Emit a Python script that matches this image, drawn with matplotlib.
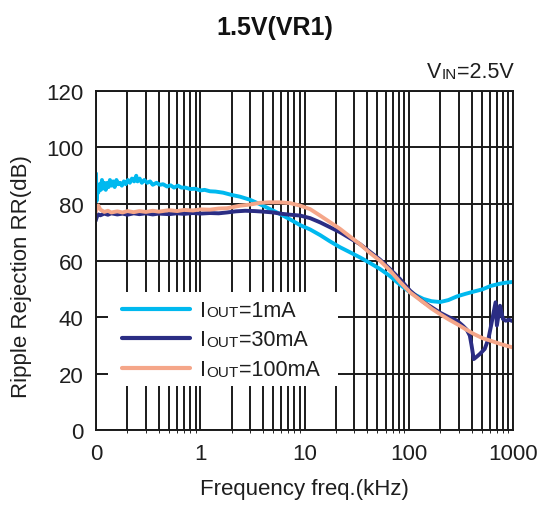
import matplotlib
matplotlib.use('Agg')
import matplotlib.pyplot as plt
from matplotlib.patches import Rectangle

plt.rcParams['font.family'] = ['Liberation Sans', 'DejaVu Sans']

# frequency in kHz, ripple rejection in dB
freq_1ma = [0.100, 0.101, 0.103, 0.105, 0.108, 0.111, 0.114, 0.117, 0.120, 0.124,
            0.128, 0.132, 0.136, 0.141, 0.146, 0.151, 0.157, 0.163, 0.170, 0.177,
            0.185, 0.193, 0.202, 0.211, 0.221, 0.232, 0.243, 0.250, 0.262, 0.275,
            0.29, 0.31, 0.33, 0.35, 0.38, 0.41, 0.44, 0.48, 0.52, 0.56,
            0.61, 0.66, 0.72, 0.8, 0.9, 1.0, 1.1, 1.24, 1.4, 1.66,
            2.0, 2.4, 3.0, 3.7, 4.6, 5.8, 7.3, 9.1, 11.3, 14.1,
            17.5, 21.9, 27, 34, 42, 53, 66, 82, 103, 120,
            138, 165, 200, 240, 290, 350, 420, 510, 610, 750, 870, 1000]
rr_1ma = [90.5, 81, 86, 84, 87, 85, 88.5, 85.5, 87.5, 85,
          87.5, 86, 88.5, 86.5, 88, 86, 88.5, 87, 87.5, 86.5,
          88, 87, 88.5, 87.5, 89, 88, 90, 88, 89, 87.5,
          88.5, 87.5, 88, 86.8, 87.5, 86.8, 87, 86.2, 86.6, 85.8,
          86.5, 85.8, 85.8, 85.3, 85.4, 84.8, 85, 84.5, 84.4, 84,
          83.2, 82.6, 81.5, 80, 78.3, 76.5, 74.5, 72.5, 71, 69,
          66.8, 64.7, 63, 61.1, 59.2, 57, 54.5, 51.5, 48.7, 47.5,
          46.4, 45.6, 45.3, 46, 47.3, 48.2, 49, 49.8, 51, 51.8, 52.2, 52.4]

freq_30ma = [0.1, 0.102, 0.105, 0.11, 0.12, 0.13, 0.14, 0.16, 0.18, 0.2,
             0.23, 0.26, 0.3, 0.35, 0.4, 0.5, 0.6, 0.7, 0.85, 1.0,
             1.24, 1.5, 1.8, 2.2, 2.7, 3.3, 4.0, 5.0, 5.8, 7.3,
             9.1, 11.3, 14.1, 17.5, 21.9, 27, 34, 42, 53, 66,
             82, 103, 138, 165, 200, 240, 290, 330, 360, 385,
             400, 420, 450, 480, 535, 580, 620, 680, 700, 750,
             800, 850, 920, 1000]
rr_30ma = [74.5, 75.5, 76.3, 76, 76.6, 76.2, 76.7, 76.3, 76.6, 76.2,
           76.7, 76.4, 76.7, 76.3, 76.6, 76.4, 76.7, 76.5, 76.8, 76.6,
           76.8, 76.7, 77.0, 77.4, 77.6, 77.5, 77.3, 77.0, 76.6, 76.2,
           75.9, 75, 73.5, 71.8, 70, 68, 65.8, 63.2, 60.3, 57,
           53.5, 49.3, 45.3, 43.5, 41.5, 40, 38.7, 36.9, 35.5, 33.4,
           30, 25.1, 26, 26.9, 28.7, 32.2, 37.5, 45.2, 37, 44,
           39.3, 38.7, 39, 38.5]

freq_100ma = [0.1, 0.102, 0.105, 0.11, 0.12, 0.13, 0.14, 0.16, 0.18, 0.2,
              0.23, 0.26, 0.3, 0.35, 0.4, 0.5, 0.6, 0.7, 0.85, 1.0,
              1.24, 1.5, 1.8, 2.4, 3.0, 3.7, 4.6, 5.8, 7.3, 9.1,
              11.3, 14.1, 17.5, 21.9, 27, 34, 42, 53, 66, 82,
              103, 138, 165, 200, 240, 290, 350, 420, 510, 610,
              750, 870, 1000]
rr_100ma = [77.5, 79, 79.5, 78, 77.2, 77.6, 77, 77.4, 77, 77.5,
            77.1, 77.5, 77.2, 77.6, 77.3, 77.8, 77.5, 77.9, 77.7, 78.1,
            78, 78.4, 78.5, 79.4, 79.8, 80.4, 80.6, 80.6, 80.3, 79.4,
            78.2, 75.9, 73.6, 71.2, 68.6, 65.8, 62.8, 59.9, 56.5, 52.5,
            48.7, 45.2, 43, 41, 39.2, 37.5, 35.7, 34, 32.5, 31.6,
            30.5, 29.8, 29.2]

series = [
    (freq_1ma, rr_1ma, '#00b9ef', '1mA'),
    (freq_30ma, rr_30ma, '#2b2d84', '30mA'),
    (freq_100ma, rr_100ma, '#f5a689', '100mA'),
]

xticks = [0.1, 1, 10, 100, 1000]
xtick_labels = ['0', '1', '10', '100', '1000']
yticks = [0, 20, 40, 60, 80, 100, 120]

txt = '#1e1e1e'
fig = plt.figure(figsize=(5.41, 5.06), dpi=100)
ax = fig.add_axes([0.1775, 0.1482, 0.7708, 0.670])

for f, v, c, lab in series:
    ax.plot(f, v, color=c, lw=2.8, zorder=2, solid_joinstyle='round')

ax.set_xscale('log')
ax.set_xlim(0.1, 1000)
ax.set_ylim(0, 120)
ax.set_xticks(xticks)
ax.set_xticklabels(xtick_labels)
ax.set_yticks(yticks)
ax.tick_params(length=0, labelsize=16, pad=9, colors=txt)
ax.set_axisbelow(True)
ax.grid(True, which='both', axis='x', color='#1a1a1a', lw=1.4)
ax.grid(True, which='major', axis='y', color='#1a1a1a', lw=1.4)
for s in ax.spines.values():
    s.set_color('#1a1a1a')
    s.set_linewidth(1.4)

# legend box drawn by hand (subscripts are small caps on the baseline)
ax.add_patch(Rectangle((0.029, 0.130), 0.551, 0.277, transform=ax.transAxes,
                       facecolor='white', edgecolor='none', zorder=1))
rows_line = [0.357, 0.2705, 0.183]
rows_text = [0.337, 0.251, 0.162]
for (f, v, c, lab), yl, yt in zip(series, rows_line, rows_text):
    ax.plot([0.0616, 0.2254], [yl, yl], transform=ax.transAxes, color=c,
            lw=3, zorder=3, solid_capstyle='round')
    t1 = ax.text(0.249, yt, 'I', transform=ax.transAxes, fontsize=15.5,
                 va='baseline', ha='left', color=txt, zorder=3)
    t2 = ax.annotate('OUT', xy=(1, 0), xycoords=t1, xytext=(0.5, 1),
                     textcoords='offset points', fontsize=11,
                     va='bottom', ha='left', color=txt, zorder=3)
    ax.annotate('=' + lab, xy=(1, 0), xycoords=t2, xytext=(0, -1),
                textcoords='offset points', fontsize=15.5,
                va='bottom', ha='left', color=txt, zorder=3)

# V_IN annotation, right aligned above the axes
tv2 = fig.text(514 / 541, 1 - 78 / 506, '=2.5V', fontsize=15.5,
               va='baseline', ha='right', color=txt)
t_in = fig.text(0, 0, '', fontsize=1)
t_in = ax.annotate('IN', xy=(0, 0), xycoords=tv2, xytext=(0, 1),
                   textcoords='offset points', fontsize=11, va='bottom',
                   ha='right', color=txt)
ax.annotate('V', xy=(0, 0), xycoords=t_in, xytext=(-0.5, -1),
            textcoords='offset points', fontsize=15.5, va='bottom',
            ha='right', color=txt)

fig.text(275 / 541, 1 - 28 / 506, '1.5V(VR1)', fontsize=18,
         fontweight='bold', ha='center', va='center', color='#111111')
fig.text(304 / 541, 1 - 490 / 506, 'Frequency freq.(kHz)', fontsize=16,
         ha='center', va='center', color=txt)
fig.text(22 / 541, 1 - 277 / 506, 'Ripple Rejection RR(dB)', fontsize=16,
         ha='center', va='center', rotation=90, color=txt)

fig.savefig('out.png', dpi=100)
